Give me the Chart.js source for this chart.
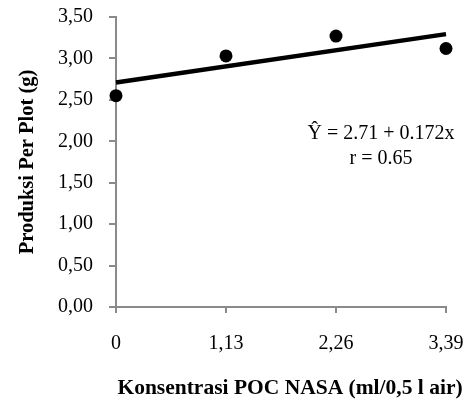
<!DOCTYPE html>
<html>
<head>
<meta charset="utf-8">
<script src="https://cdn.jsdelivr.net/npm/chart.js@4.4.0/dist/chart.umd.min.js"></script>
<style>
  html, body { margin: 0; padding: 0; background: #fff; }
  #wrap { width: 470px; height: 401px; }
</style>
</head>
<body>
<div id="wrap"><canvas id="c"></canvas></div>
<script>
// data
const doses = [0, 1.13, 2.26, 3.39];
const doseLabels = ['0', '1,13', '2,26', '3,39'];
const yields = [2.55, 3.03, 3.27, 3.12];
const intercept = 2.71;
const slope = 0.172;
const eqLines = ['\u0176 = 2.71 + 0.172x', 'r = 0.65'];
const xTitle = 'Konsentrasi POC NASA (ml/0,5 l air)';
const yTitle = 'Produksi Per Plot (g)';

const serif = '"Liberation Serif", "Times New Roman", serif';
const axisGray = '#8a8a8a';

const points = doses.map((d, i) => ({ x: d, y: yields[i] }));
const fit = [doses[0], doses[doses.length - 1]].map(d => ({ x: d, y: intercept + slope * d }));

// equation box and the x title (the title sits right of the plot centre in the original)
const textPlugin = {
  id: 'texts',
  afterDraw(chart) {
    const ctx = chart.ctx;
    ctx.save();
    ctx.fillStyle = '#000';
    ctx.textAlign = 'center';
    ctx.textBaseline = 'middle';
    ctx.font = '20px ' + serif;
    ctx.fillText(eqLines[0], 381, 134);
    ctx.fillText(eqLines[1], 381, 159);
    ctx.textBaseline = 'alphabetic';
    ctx.font = 'bold 21.5px ' + serif;
    ctx.fillText(xTitle, 290, 394);
    ctx.restore();
  }
};

new Chart(document.getElementById('c'), {
  type: 'scatter',
  data: {
    datasets: [
      {
        type: 'line',
        data: fit,
        borderColor: '#000',
        borderWidth: 4.5,
        pointRadius: 0,
        fill: false,
        clip: false,
        order: 2
      },
      {
        data: points,
        backgroundColor: '#000',
        borderColor: '#000',
        pointRadius: 6.5,
        pointBorderWidth: 0,
        clip: false,
        order: 1
      }
    ]
  },
  options: {
    responsive: true,
    maintainAspectRatio: false,
    animation: false,
    layout: { padding: { top: 17, right: 24, left: 0, bottom: 0 } },
    plugins: { legend: { display: false }, tooltip: { enabled: false } },
    scales: {
      x: {
        type: 'linear',
        min: 0,
        max: 3.39,
        afterBuildTicks(scale) { scale.ticks = doses.map(v => ({ value: v })); },
        afterFit(scale) { scale.height = 94; scale.paddingLeft = 0; scale.paddingRight = 0; },
        border: { color: axisGray, width: 2 },
        grid: { drawOnChartArea: false, drawTicks: true, tickLength: 6, color: axisGray, lineWidth: 2 },
        ticks: {
          padding: 19,
          color: '#000',
          font: { family: serif, size: 20 },
          maxRotation: 0,
          callback: (v, i) => doseLabels[i]
        }
      },
      y: {
        min: 0,
        max: 3.5,
        afterFit(scale) { scale.width = 116; scale.paddingTop = 0; scale.paddingBottom = 0; },
        border: { color: axisGray, width: 2 },
        grid: { drawOnChartArea: false, drawTicks: true, tickLength: 7, color: axisGray, lineWidth: 2 },
        ticks: {
          stepSize: 0.5,
          padding: 16,
          color: '#000',
          font: { family: serif, size: 20 },
          callback: v => v.toFixed(2).replace('.', ',')
        },
        title: {
          display: true,
          text: yTitle,
          color: '#000',
          font: { family: serif, size: 20.5, weight: 'bold' },
          padding: { top: 15, bottom: 0 }
        }
      }
    }
  },
  plugins: [textPlugin]
});
</script>
</body>
</html>
